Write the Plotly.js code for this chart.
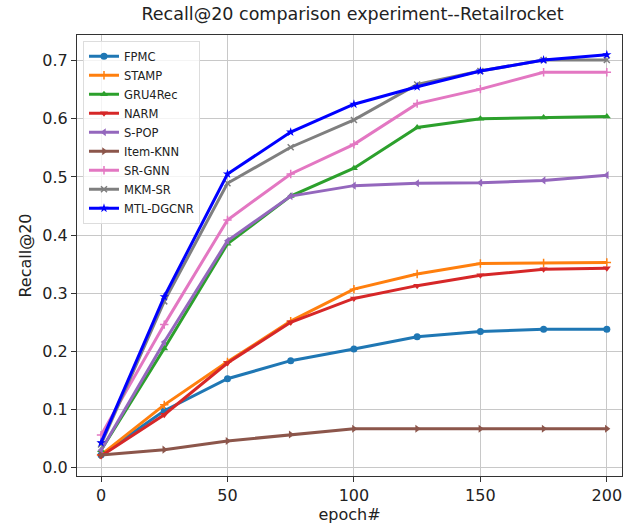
<!DOCTYPE html>
<html><head><meta charset="utf-8">
<script src="https://cdn.plot.ly/plotly-3.0.1.min.js"></script>
<style>body{margin:0;background:#fff}#c{width:624px;height:529px}</style>
</head><body><div id="c"></div>
<script>
const epochs = [0, 25, 50, 75, 100, 125, 150, 175, 200];
const seriesNames = ["FPMC","STAMP","GRU4Rec","NARM","S-POP","Item-KNN","SR-GNN","MKM-SR","MTL-DGCNR"];
const FPMC     = [0.022, 0.098, 0.153, 0.184, 0.204, 0.225, 0.234, 0.238, 0.238];
const STAMP    = [0.022, 0.108, 0.182, 0.252, 0.307, 0.333, 0.351, 0.352, 0.353];
const GRU4Rec  = [0.030, 0.205, 0.385, 0.467, 0.515, 0.585, 0.600, 0.602, 0.604];
const NARM     = [0.020, 0.091, 0.180, 0.250, 0.291, 0.313, 0.331, 0.341, 0.343];
const SPOP     = [0.030, 0.216, 0.390, 0.467, 0.485, 0.489, 0.490, 0.494, 0.503];
const ItemKNN  = [0.022, 0.031, 0.046, 0.057, 0.067, 0.067, 0.067, 0.067, 0.067];
const SRGNN    = [0.056, 0.246, 0.426, 0.505, 0.556, 0.626, 0.651, 0.680, 0.680];
const MKMSR    = [0.040, 0.286, 0.489, 0.551, 0.598, 0.659, 0.682, 0.701, 0.701];
const MTLDGCNR = [0.043, 0.294, 0.505, 0.577, 0.625, 0.655, 0.682, 0.701, 0.710];
const values = [FPMC, STAMP, GRU4Rec, NARM, SPOP, ItemKNN, SRGNN, MKMSR, MTLDGCNR];
const colors = ["#1f77b4","#ff7f0e","#2ca02c","#d62728","#9467bd","#8c564b","#e377c2","#7f7f7f","#0000ff"];
const symbols = ["circle","cross-thin","triangle-up","triangle-down","triangle-left","triangle-right","cross-thin","x-thin","star"];
const xTicks = [0, 50, 100, 150, 200];
const yTicks = [0.0, 0.1, 0.2, 0.3, 0.4, 0.5, 0.6, 0.7];

const traces = seriesNames.map((n, i) => ({
  x: epochs, y: values[i], name: n, type: "scatter", mode: "lines+markers",
  line: {color: colors[i], width: 3},
  marker: {symbol: symbols[i], size: (symbols[i].indexOf("thin")>=0 ? 6 : 7), color: colors[i], line: {color: colors[i], width: (symbols[i].indexOf("thin")>=0 ? 1.5 : 0)}}
}));

const font = "DejaVu Sans, Liberation Sans, sans-serif";
const layout = {
  width: 624, height: 529,
  margin: {l: 77, r: 2, t: 35, b: 53},
  paper_bgcolor: "#fff", plot_bgcolor: "#fff",
  font: {family: font, color: "#222"},
  title: {text: "Recall@20 comparison experiment--Retailrocket", font: {size: 17.5, family: font, color: "#222"}, x: 0.565, xanchor: "center", y: 0.985, yanchor: "top"},
  xaxis: {
    range: [-9.5, 206], tickvals: xTicks, ticktext: xTicks.map(String),
    showgrid: true, gridcolor: "#c8c8c8", gridwidth: 1, zeroline: false,
    showline: true, linecolor: "#333", linewidth: 1, mirror: true,
    ticks: "outside", ticklen: 5, tickcolor: "#333", tickfont: {size: 16, family: font, color: "#222"},
    title: {text: "epoch#", font: {size: 16, family: font, color: "#222"}, standoff: 3}
  },
  yaxis: {
    range: [-0.0143, 0.744], tickvals: yTicks, ticktext: yTicks.map(v => v.toFixed(1)),
    showgrid: true, gridcolor: "#c8c8c8", gridwidth: 1, zeroline: false,
    showline: true, linecolor: "#333", linewidth: 1, mirror: true,
    ticks: "outside", ticklen: 5, tickcolor: "#333", tickfont: {size: 16, family: font, color: "#222"},
    title: {text: "Recall@20", font: {size: 16, family: font, color: "#222"}, standoff: 6}
  },
  legend: {
    x: 0.011, y: 0.987, xanchor: "left", yanchor: "top",
    bgcolor: "rgba(255,255,255,0.8)", bordercolor: "#ddd", borderwidth: 1,
    font: {size: 11.5, family: font, color: "#222"}, tracegroupgap: 0, itemwidth: 30
  },
  showlegend: true
};
Plotly.newPlot("c", traces, layout, {displayModeBar: false, staticPlot: true});
</script></body></html>
